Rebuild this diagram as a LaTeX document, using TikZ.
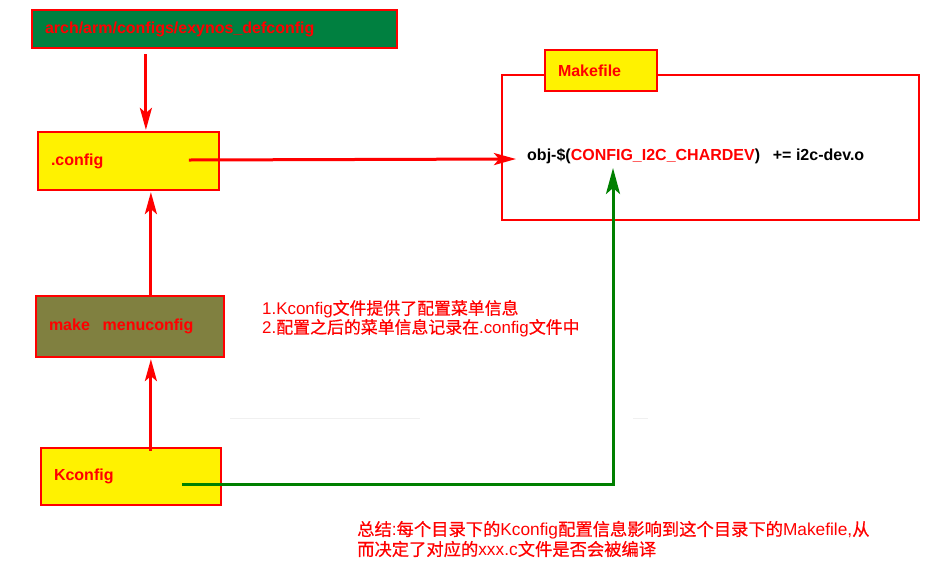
\documentclass[tikz,border=0pt]{standalone}
\usepackage{fontspec}
\setmainfont{Liberation Sans}
\newfontfamily\cjk{Noto Sans CJK SC}[FakeBold=0.6]
\usetikzlibrary{arrows.meta,calc}
\definecolor{boxgreen}{RGB}{0,128,64}
\definecolor{boxolive}{RGB}{128,128,64}
\definecolor{linegreen}{RGB}{0,128,0}
\begin{document}
\begin{tikzpicture}[x=1pt,y=-1pt,
  box/.style={draw=red, line width=2.2pt, inner xsep=13pt, inner ysep=0pt, anchor=center,
    font=\bfseries\fontsize{16}{19}\selectfont, text=red, align=left},
  redarrow/.style={draw=red, line width=3pt, -{Stealth[length=22pt,width=12pt,inset=5pt]}},
  greenarrow/.style={draw=linegreen, line width=3pt, -{Stealth[length=26pt,width=14pt,inset=6pt]}},
  plain/.style={inner sep=0pt, anchor=west, align=left, text=red}]
\useasboundingbox (0,0) rectangle (949,574);

% faint artefact lines
\draw[black!6, line width=1pt] (230,418) -- (420,418);
\draw[black!6, line width=1pt] (633,418) -- (648,418);

\node[box, fill=boxgreen, minimum height=38pt, text width=339pt] (def) at (214.5,29) {arch/arm/configs/exynos\_defconfig};
\node[box, fill=yellow, minimum height=58pt, text width=155pt] (config) at (128.5,161) {.config};
\node[box, fill=boxolive, minimum height=61pt, text width=162pt] (make) at (130,326.5) {make\hspace{0.8em}menuconfig};
\node[box, fill=yellow, minimum height=57pt, text width=154pt] (kconfig) at (131,476.5) {Kconfig};

\node[draw=red, line width=2.6pt, minimum width=417pt, minimum height=145pt, inner sep=0pt] (mf) at (710.5,147.5) {};
\node[box, fill=yellow, minimum height=41pt, text width=86pt] (mflabel) at (601,70.5) {Makefile};

\node[plain, text=black, font=\bfseries\fontsize{16}{19}\selectfont] (obj) at (527,156)
  {obj-\$(\textcolor{red}{CONFIG\_I2C\_CHARDEV})\hspace{0.8em}+= i2c-dev.o};

\node[plain, font=\fontsize{16.9}{19}\selectfont] (note) at (262,318.5)
  {1.Kconfig{\cjk 文件提供了配置菜单信息}\\2.{\cjk 配置之后的菜单信息记录在}.config{\cjk 文件中}};

\node[plain, font=\fontsize{17.3}{20}\selectfont] (summary) at (357,539)
  {{\cjk 总结}:{\cjk 每个目录下的}Kconfig{\cjk 配置信息影响到这个目录下的}Makefile,{\cjk 从}\\{\cjk 而决定了对应的}xxx.c{\cjk 文件是否会被编译}};

\draw[redarrow] ($(def.south west)+(115,5)$) -- ($(config.north west)+(109,-1)$);
\draw[redarrow] ($(config.west)+(152,-1)$) -- ($(obj.west)+(-11,3)$);
\draw[redarrow] ($(make.north west)+(116,0)$) -- ($(config.south west)+(114,1)$);
\draw[redarrow] ($(kconfig.north west)+(111,4)$) -- ($(make.south west)+(116,1)$);
\draw[greenarrow] ($(kconfig.west)+(142,7.5)$) -| ($(obj.west)+(86,12)$);
\end{tikzpicture}
\end{document}
